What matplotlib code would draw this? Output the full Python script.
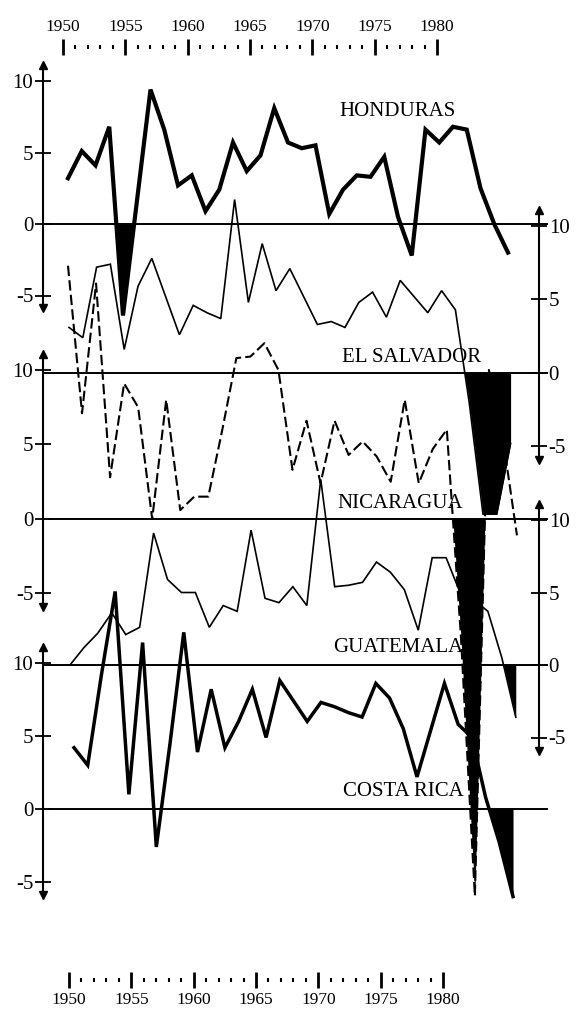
import matplotlib
matplotlib.use('Agg')
import matplotlib.pyplot as plt
import matplotlib.transforms as mtransforms
import numpy as np

# annual growth, %, 1950-1982
years = list(range(1950, 1983))

honduras = [3.2, 5.1, 4.1, 6.8, -6.4, 1.5, 9.4, 6.6, 2.7, 3.4,
            0.9, 2.4, 5.7, 3.7, 4.8, 8.1, 5.7, 5.3, 5.5, 0.7,
            2.4, 3.4, 3.3, 4.7, 0.5, -2.2, 6.6, 5.7, 6.8, 6.6,
            2.5, 0.0, -2.0]
el_salvador = [3.1, 2.4, 7.2, 7.4, 1.6, 5.9, 7.8, 5.2, 2.6, 4.6,
               4.1, 3.7, 11.8, 4.8, 8.8, 5.6, 7.1, 5.2, 3.3, 3.5,
               3.1, 4.8, 5.5, 3.8, 6.3, 5.2, 4.1, 5.6, 4.3, -2.0,
               -9.6, -9.6, -4.8]
nicaragua = [17.0, 7.1, 15.8, 2.8, 9.1, 7.5, 0.0, 8.0, 0.6, 1.5,
             1.5, 6.0, 10.8, 10.9, 11.8, 10.0, 3.3, 6.6, 2.4, 6.6,
             4.3, 5.2, 4.2, 2.5, 8.0, 2.4, 4.7, 6.0, -7.8, -25.3,
             10.0, 5.4, -1.1]
guatemala = [0.0, 1.2, 2.2, 3.6, 2.1, 2.6, 9.1, 5.9, 5.0, 5.0,
             2.6, 4.1, 3.7, 9.3, 4.6, 4.3, 5.4, 4.1, 12.8, 5.4,
             5.5, 5.7, 7.1, 6.4, 5.2, 2.4, 7.4, 7.4, 5.0, 4.5,
             3.7, 0.5, -3.6]
costa_rica = [4.2, 3.0, 9.2, 14.9, 1.0, 11.4, -2.6, 4.5, 12.1, 3.9,
              8.2, 4.2, 6.0, 8.2, 4.9, 8.8, 7.4, 6.0, 7.3, 7.0,
              6.6, 6.3, 8.6, 7.6, 5.5, 2.2, 5.4, 8.6, 5.8, 4.9,
              0.8, -2.3, -6.0]

names = ['HONDURAS', 'EL SALVADOR', 'NICARAGUA', 'GUATEMALA', 'COSTA RICA']
series = [honduras, el_salvador, nicaragua, guatemala, costa_rica]
# years whose negative values are shaded
shade_years = [[1954], [1979, 1980, 1981, 1982], [1978, 1979], [1982], [1981, 1982]]

W, H = 577, 1011
SERIF = ['Liberation Serif', 'DejaVu Serif']
plt.rcParams['font.family'] = SERIF

fig = plt.figure(figsize=(W / 100, H / 100), dpi=100)

# each curve was drawn with its own slightly different year spacing:
# (pixel of 1950, pixels per year)
x_scale = [(68, 13.75), (69, 13.8), (68, 14.03), (70, 13.93), (74, 13.72)]
zeros = [224, 373, 519, 665, 809]          # zero line, px from top
scales = [14.3, 14.7, 14.9, 14.5, 14.6]    # px per percentage point
sides = ['left', 'right', 'left', 'right', 'left']
styles = [dict(lw=3.0), dict(lw=1.2), dict(lw=1.5, ls=(0, (5, 2))),
          dict(lw=1.2), dict(lw=2.5)]
label_px = [(397, 112), (412, 357), (400, 503), (398, 648), (403, 792)]
LEFT_X, RIGHT_X = 43 / W, 539 / W

for i in range(5):
    ax = fig.add_axes([0, 0, 1, 1])
    ax.patch.set_alpha(0)
    base, ppy = x_scale[i]
    x0 = 1950 - base / ppy
    ax.set_xlim(x0, x0 + W / ppy)
    zp, sc = zeros[i], scales[i]
    ax.set_ylim(-(H - zp) / sc, zp / sc)
    for s in ax.spines.values():
        s.set_visible(False)
    ax.set_xticks([])

    side = sides[i]
    xpos = LEFT_X if side == 'left' else RIGHT_X
    sp = ax.spines[side]
    sp.set_visible(True)
    sp.set_position(('axes', xpos))
    lo, hi = -5.9, 11.1
    sp.set_bounds(lo, hi)
    sp.set_linewidth(1.5)
    ax.yaxis.set_ticks_position(side)
    ax.set_yticks([-5, 0, 5, 10])
    ax.set_yticklabels(['-5', '0', '5', '10'])
    ax.tick_params(axis='y', direction='inout', length=12, width=1.3,
                   labelsize=15, pad=1)
    tr = mtransforms.blended_transform_factory(ax.transAxes, ax.transData)
    ax.plot([xpos], [hi], marker='^', ms=6, color='black', transform=tr, clip_on=False)
    ax.plot([xpos], [lo], marker='v', ms=6, color='black', transform=tr, clip_on=False)

    ax.axhline(0, xmin=LEFT_X, xmax=547 / W, color='black', lw=1.4)

    vals = np.array(series[i])
    yrs = np.array(years)
    ax.plot(yrs, vals, color='black', solid_joinstyle='miter', **styles[i])
    mask = (vals < 0) & np.isin(yrs, shade_years[i])
    ax.fill_between(yrs, vals, 0, where=mask, interpolate=True,
                    color='black', lw=0)

    lx, ly = label_px[i]
    fig.text(lx / W, 1 - ly / H, names[i], ha='center', va='center',
             fontsize=15, family=SERIF)


def year_axis(y_px, x1950, x1980, top):
    ppy = (x1980 - x1950) / 30
    ax = fig.add_axes([0, 1 - y_px / H, 1, 1e-4])
    ax.patch.set_alpha(0)
    ax.set_xlim(1950 - x1950 / ppy, 1950 + (W - x1950) / ppy)
    for s in ax.spines.values():
        s.set_visible(False)
    ax.set_yticks([])
    ax.set_xticks(range(1950, 1981, 5))
    ax.set_xticks(range(1950, 1981), minor=True)
    if top:
        ax.xaxis.tick_top()
    ax.tick_params(which='major', direction='inout', length=11, width=2,
                   labelsize=12.5, pad=3)
    ax.tick_params(which='minor', direction='inout', length=2.5, width=1.5)


year_axis(47, 63, 437, True)
year_axis(980, 69, 443, False)

fig.savefig('out.png', dpi=100)
